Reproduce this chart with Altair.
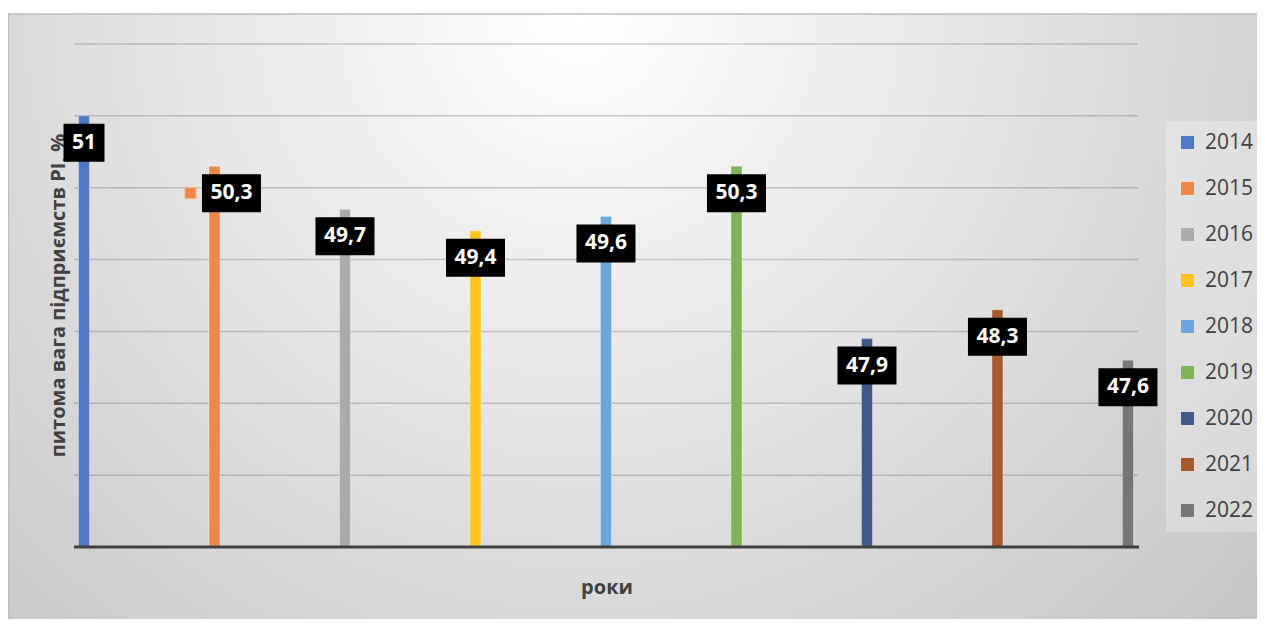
import altair as alt
import pandas as pd

# ---- data ----
years = ["2014", "2015", "2016", "2017", "2018", "2019", "2020", "2021", "2022"]
values = [51.0, 50.3, 49.7, 49.4, 49.6, 50.3, 47.9, 48.3, 47.6]
labels = ["51", "50,3", "49,7", "49,4", "49,6", "50,3", "47,9", "48,3", "47,6"]
grid_values = [46, 47, 48, 49, 50, 51, 52]
y_title = "питома вага підприємств РІ, %"
x_title = "роки"

# ---- styling (kept separate from the data) ----
colors = ["#4F79C6", "#EE8747", "#ABABAB", "#FFC41F", "#6CA5D9",
          "#7DB359", "#3F5A87", "#A65A2C", "#767676"]
label_shift = [0, 0.13, 0, 0, 0, 0, 0, 0, 0]   # x-shift of a data label (x units)

W, H = 1063, 503
Y_MIN, Y_MAX = 45, 52
PX = H / (Y_MAX - Y_MIN)          # pixels per y unit
LBL_DY = 27 / PX                   # label centre below bar top
BOX_H = 19 / PX                    # half box height

df = pd.DataFrame({
    "year": years,
    "pos": list(range(len(years))),
    "value": values,
    "label": labels,
    "shift": label_shift,
})

xs = alt.Scale(domain=[-0.069, 8.077], nice=False, zero=False, padding=0)
ys = alt.Scale(domain=[Y_MIN, Y_MAX], nice=False, zero=False, padding=0)

base = alt.Chart(df)

# background gradient panel and frame
bg = alt.Chart(alt.Data(values=[{}])).mark_rect(
    fill=alt.RadialGradient(
        gradient="radial", x1=0.47, y1=0.0, x2=0.47, y2=0.0, r1=0, r2=0.54,
        stops=[alt.GradientStop(offset=0, color="#ffffff"),
               alt.GradientStop(offset=1, color="#bcbcbc")]),
).encode(x=alt.value(-67), x2=alt.value(1191), y=alt.value(-30), y2=alt.value(1903))

frame = alt.Chart(alt.Data(values=[{}])).mark_rect(
    fill=None, stroke="#bdbdbd", strokeWidth=1.5
).encode(x=alt.value(-66.5), x2=alt.value(1200), y=alt.value(-30), y2=alt.value(700))

ytitle = alt.Chart(pd.DataFrame({"t": [y_title]})).mark_text(
    angle=270, font="Open Sans", fontSize=20, fontWeight="bold",
    color="#404040", align="center", baseline="bottom"
).encode(x=alt.value(-6), y=alt.value(H / 2), text="t:N")

grid = alt.Chart(pd.DataFrame({"g": grid_values})).mark_rule(
    color="black", strokeOpacity=0.18, strokeWidth=1.5
).encode(y=alt.Y("g:Q", scale=ys), x=alt.value(-1), x2=alt.value(W))

bars = base.mark_bar(width=11, stroke="white", strokeOpacity=0.35, strokeWidth=1).encode(
    x=alt.X("pos:Q", scale=xs,
            axis=alt.Axis(title=x_title, labels=False, ticks=False, domain=False, grid=False,
                          zindex=1, titlePadding=30, titleFont="Open Sans", titleFontSize=20,
                          titleFontWeight="bold", titleColor="#404040")),
    y=alt.Y("value:Q", scale=ys,
            axis=alt.Axis(title="", labels=False, ticks=False, domain=False, grid=False)),
    y2=alt.datum(Y_MIN),
    color=alt.Color("year:N", scale=alt.Scale(domain=years, range=colors),
                    legend=alt.Legend(title=None, orient="none", legendX=1091, legendY=77,
                                      symbolType="square", symbolSize=169,
                                      symbolStrokeWidth=0, labelFont="Open Sans",
                                      labelFontSize=21, labelColor="#404040",
                                      labelOffset=7, rowPadding=24, padding=11,
                                      fillColor="rgba(255,255,255,0.28)", zindex=1)),
)

baseline = alt.Chart(alt.Data(values=[{}])).mark_rule(color="#404040", strokeWidth=3).encode(
    y=alt.datum(Y_MIN), x=alt.value(-1), x2=alt.value(W + 1))

lab = base.transform_calculate(
    lx="datum.pos + datum.shift",
    lyc=f"datum.value - {LBL_DY}",
    ytop=f"datum.value - {LBL_DY} + {BOX_H}",
    ybot=f"datum.value - {LBL_DY} - {BOX_H}",
)

box_short = lab.transform_filter("length(datum.label) <= 2").mark_bar(width=41, color="black").encode(
    x=alt.X("lx:Q", scale=xs), y=alt.Y("ytop:Q", scale=ys), y2="ybot:Q")
box_long = lab.transform_filter("length(datum.label) > 2").mark_bar(width=59, color="black").encode(
    x=alt.X("lx:Q", scale=xs), y=alt.Y("ytop:Q", scale=ys), y2="ybot:Q")

# stray orange marker left of the 2015 label in the reference
stray = lab.transform_filter("datum.year == '2015'").transform_calculate(
    sx="datum.pos - 0.184").mark_square(size=121, color="#EE8747", stroke="#f6b88e",
                                        strokeWidth=1, opacity=1).encode(
    x=alt.X("sx:Q", scale=xs), y=alt.Y("lyc:Q", scale=ys))

text = lab.mark_text(font="Open Sans", fontSize=21, fontWeight="bold", color="white",
                     align="center", baseline="middle").encode(
    x=alt.X("lx:Q", scale=xs), y=alt.Y("lyc:Q", scale=ys), text="label:N")

chart = alt.layer(bg, frame, ytitle, grid, bars, baseline, stray, box_short, box_long, text).properties(
    width=W, height=H,
    autosize=alt.AutoSizeParams(type="none"),
    padding={"left": 67, "top": 36, "right": 119, "bottom": 72},
    background="white",
).configure_view(stroke=None)

chart.save("out.html", embed_options={"renderer": "svg", "actions": False})
